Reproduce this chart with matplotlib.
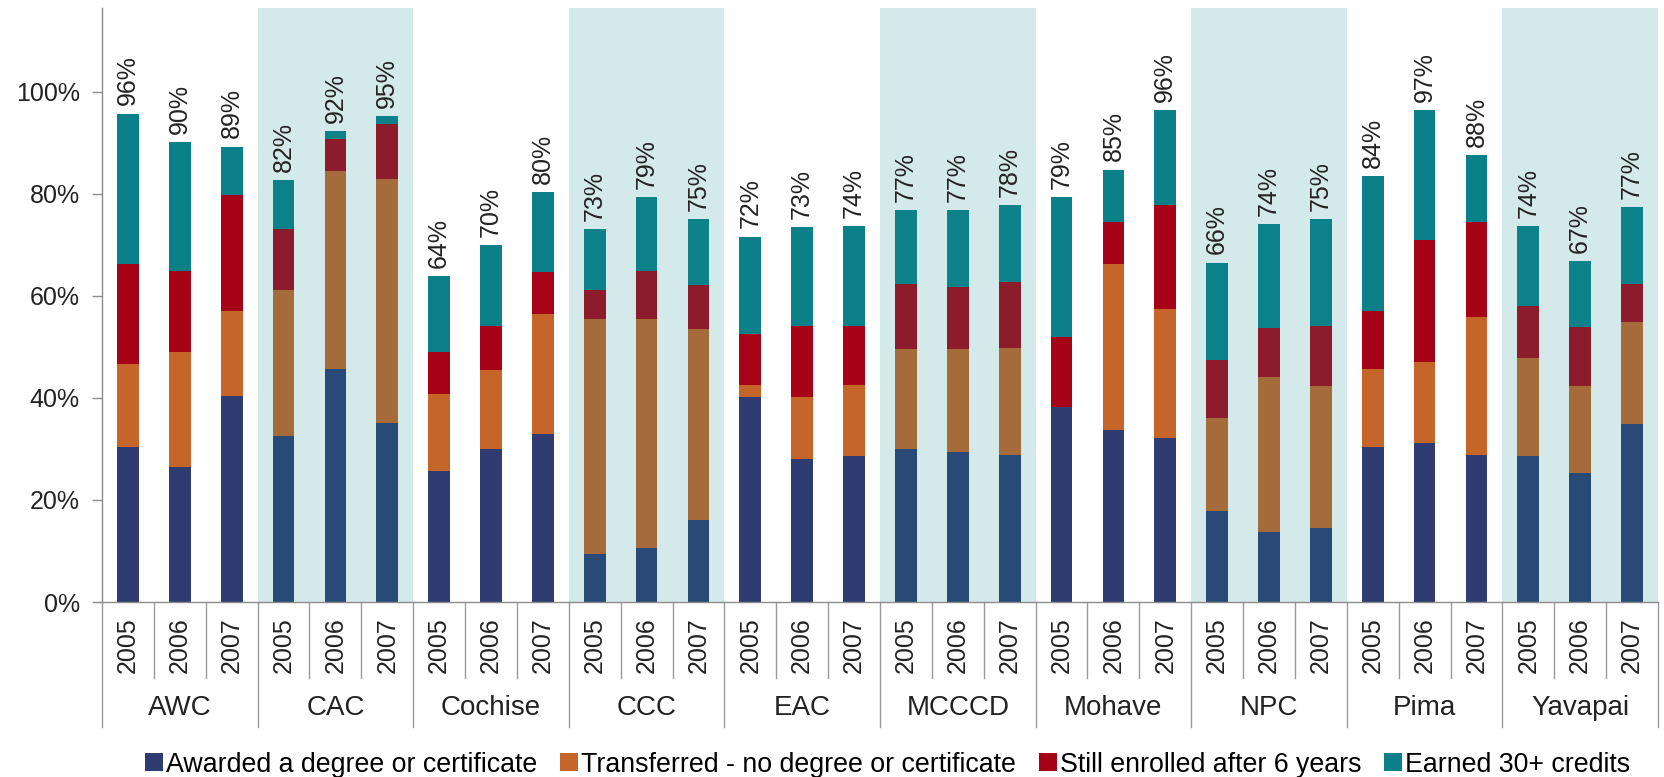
import matplotlib
matplotlib.use("Agg")
import matplotlib.pyplot as plt
import matplotlib.transforms as mtransforms
from matplotlib.patches import Patch
import numpy as np

plt.rcParams["font.family"] = ["Liberation Sans", "DejaVu Sans"]

# Data (percent of cohort)
colleges = ["AWC", "CAC", "Cochise", "CCC", "EAC", "MCCCD", "Mohave", "NPC", "Pima", "Yavapai"]
years = ["2005", "2006", "2007"]

awarded = [30.3, 26.5, 40.4, 32.6, 45.7, 35.0, 25.6, 29.9, 32.9, 9.5, 10.5, 16.1,
           40.1, 28.1, 28.7, 29.9, 29.3, 28.9, 38.3, 33.8, 32.1, 17.8, 13.7, 14.5,
           30.3, 31.2, 28.9, 28.7, 25.3, 34.8]
transferred = [16.3, 22.4, 16.7, 28.6, 38.8, 47.9, 15.2, 15.6, 23.5, 46.0, 45.0, 37.3,
               2.5, 12.1, 13.9, 19.7, 20.3, 20.9, 0.0, 32.5, 25.3, 18.3, 30.4, 27.8,
               15.4, 15.8, 27.0, 19.2, 17.0, 20.1]
enrolled = [19.6, 16.0, 22.6, 11.9, 6.3, 10.7, 8.1, 8.6, 8.2, 5.6, 9.4, 8.7,
            10.0, 13.9, 11.5, 12.8, 12.2, 12.9, 13.7, 8.1, 20.4, 11.3, 9.5, 11.8,
            11.4, 23.9, 18.5, 10.1, 11.6, 7.5]
earned = [29.5, 25.2, 9.5, 9.5, 1.5, 1.6, 15.0, 15.8, 15.7, 12.0, 14.4, 12.9,
          19.0, 19.3, 19.6, 14.4, 15.0, 15.1, 27.3, 10.3, 18.6, 19.1, 20.5, 20.9,
          26.4, 25.5, 13.2, 15.7, 12.9, 15.0]
totals = [96, 90, 89, 82, 92, 95, 64, 70, 80, 73, 79, 75, 72, 73, 74,
          77, 77, 78, 79, 85, 96, 66, 74, 75, 84, 97, 88, 74, 67, 77]

series = [
    ("Awarded a degree or certificate", awarded, "#2E3C72"),
    ("Transferred - no degree or certificate", transferred, "#C6652A"),
    ("Still enrolled after 6 years", enrolled, "#A60317"),
    ("Earned 30+ credits", earned, "#0B8089"),
]

W, H = 1664, 777
fig = plt.figure(figsize=(W / 100, H / 100), dpi=100)
ax = fig.add_axes([102 / W, 175 / H, 1556 / W, 594 / H])

x = np.arange(len(awarded))
bottom = np.zeros(len(x))
for name, vals, col in series:
    v = np.array(vals) / 100
    ax.bar(x, v, width=0.42, bottom=bottom, color=col, zorder=2)
    bottom += v

# shaded groups drawn as a light overlay
for g in range(1, len(colleges), 2):
    ax.axvspan(3 * g - 0.5, 3 * g + 2.5, color="#168A8A", alpha=0.18, lw=0, zorder=3)

for xi, top, t in zip(x, bottom, totals):
    ax.annotate(f"{t}%", (xi, top), xytext=(0, 6), textcoords="offset points",
                rotation=90, ha="center", va="bottom", fontsize=18, color="#222222", zorder=5)

ax.set_xlim(-0.5, len(x) - 0.5)
ax.set_ylim(0, 1.164)
ax.set_yticks(np.arange(0, 1.01, 0.2))
ax.set_yticklabels([f"{int(round(v * 100))}%" for v in np.arange(0, 1.01, 0.2)])
ax.tick_params(axis="y", length=7, width=1, color="#8c8c8c", pad=9, labelsize=18, labelcolor="#222222")
ax.set_xticks([])
for s in ["top", "right"]:
    ax.spines[s].set_visible(False)
for s in ["left", "bottom"]:
    ax.spines[s].set_color("#8c8c8c")
    ax.spines[s].set_linewidth(1)
    ax.spines[s].set_zorder(4)

# category axis: year labels, group labels, separators
trans = mtransforms.blended_transform_factory(ax.transData, ax.transAxes)
for i in range(len(x) + 1):
    yend = -0.21 if i % 3 == 0 else -0.128
    ax.plot([i - 0.5, i - 0.5], [0, yend], transform=trans, clip_on=False,
            color="#9a9a9a", lw=1)
for i in range(len(x)):
    ax.text(i, -0.072, years[i % 3], transform=trans, rotation=90, ha="center",
            va="center", fontsize=18, color="#222222")
for g, name in enumerate(colleges):
    ax.text(3 * g + 1, -0.178, name, transform=trans, ha="center", va="center",
            fontsize=20, color="#222222")

handles = [Patch(facecolor=c, label=n) for n, _, c in series]
fig.legend(handles=handles, loc="center", bbox_to_anchor=(0.5334, 0.016), ncol=4,
           frameon=False, fontsize=19.3, handlelength=0.67, handleheight=0.67,
           handletextpad=0.12, columnspacing=0.85, borderaxespad=0, borderpad=0)

fig.savefig("out.png", dpi=100)
